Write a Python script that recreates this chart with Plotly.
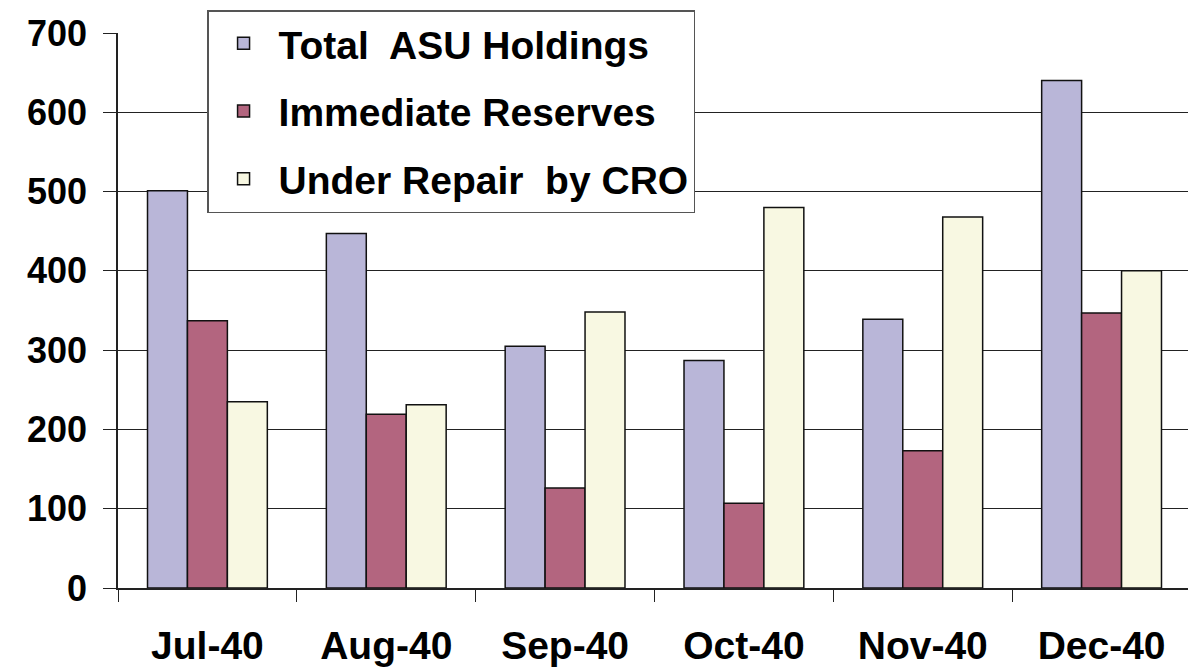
import plotly.graph_objects as go

months = ["Jul-40", "Aug-40", "Sep-40", "Oct-40", "Nov-40", "Dec-40"]
total_asu = [501, 447, 305, 287, 339, 640]
immediate_reserves = [337, 219, 126, 107, 173, 347]
under_repair = [235, 231, 348, 480, 468, 400]

FONT = "Liberation Sans, Arial, sans-serif"

fig = go.Figure()

series = [
    ("Total  ASU Holdings", total_asu, "#B9B6D8"),
    ("Immediate Reserves", immediate_reserves, "#B3657F"),
    ("Under Repair  by CRO", under_repair, "#F8F8E2"),
]

for name, values, color in series:
    fig.add_trace(go.Bar(
        x=months,
        y=values,
        name=name,
        legendgroup=name,
        marker=dict(color=color, line=dict(color="#111111", width=1.5))
    ))

# page body has an 8px margin, so margins are shifted to compensate
fig.update_layout(
    width=1196,
    height=667,
    barmode="group",
    bargap=0.33,
    bargroupgap=0,
    plot_bgcolor="white",
    paper_bgcolor="white",
    margin=dict(l=110, r=13, t=25, b=87, autoexpand=False),
    font=dict(family=FONT, size=36, color="black", weight="bold"),
    legend=dict(
        x=0.083, y=1.0414, xanchor="left", yanchor="top",
        bgcolor="white", bordercolor="#555555", borderwidth=1.5,
        font=dict(family=FONT, size=39, color="black", weight="bold"),
        tracegroupgap=14,
        itemwidth=60,
    ),
    showlegend=True,
)

fig.update_yaxes(
    range=[0, 700],
    dtick=100,
    automargin=False,
    showgrid=True,
    gridcolor="#222222",
    gridwidth=1,
    showline=True,
    linecolor="#222222",
    linewidth=1.5,
    ticks="outside",
    ticklen=13,
    tickcolor="#222222",
    tickfont=dict(family=FONT, size=36, color="black", weight="bold"),
    ticklabelstandoff=9,
    zeroline=False,
)

fig.update_xaxes(
    automargin=False,
    showline=True,
    linecolor="#222222",
    linewidth=1.5,
    ticks="outside",
    tickson="boundaries",
    ticklen=12,
    tickcolor="#222222",
    tickfont=dict(family=FONT, size=39, color="black", weight="bold"),
    ticklabelstandoff=22,
    mirror=False,
)

# right border of the plot area
fig.add_shape(type="line", xref="paper", yref="paper", x0=1, x1=1, y0=0, y1=1,
              line=dict(color="#AAAAAA", width=1.5))

fig.write_html("out.html")
